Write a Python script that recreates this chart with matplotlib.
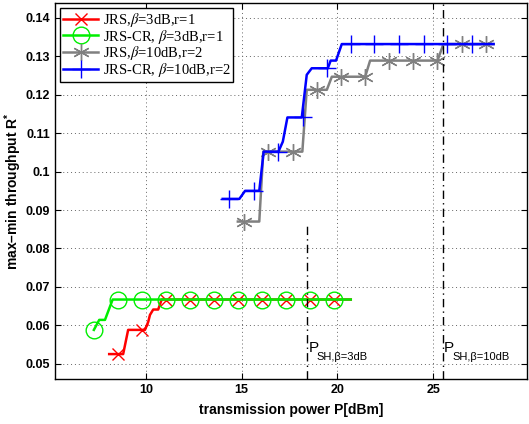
import matplotlib
matplotlib.use("Agg")
import matplotlib.pyplot as plt
from matplotlib.lines import Line2D
from matplotlib.font_manager import FontProperties

plt.rcParams['font.family'] = ['Liberation Sans', 'DejaVu Sans']
plt.rcParams['mathtext.fontset'] = 'custom'
plt.rcParams['mathtext.rm'] = 'Liberation Sans'
plt.rcParams['mathtext.bf'] = 'Liberation Sans:bold'

# JRS, beta=3dB, r=1 (red)
red_x = [8.08, 8.81, 9.07, 9.95, 10.12, 10.21, 10.38, 10.64, 10.82, 20.7]
red_y = [0.0525, 0.0525, 0.0588, 0.0588, 0.0609, 0.0627, 0.0641, 0.0641, 0.0667, 0.0667]
red_mx = [8.55, 9.8, 11.05, 12.3, 13.55, 14.8, 16.05, 17.3, 18.55, 19.8]
red_my = [0.0525, 0.0588, 0.0667, 0.0667, 0.0667, 0.0667, 0.0667, 0.0667, 0.0667, 0.0667]

# JRS-CR, beta=3dB, r=1 (green)
green_x = [7.28, 7.56, 7.86, 8.26, 20.7]
green_y = [0.0588, 0.0614, 0.0614, 0.0667, 0.0667]
green_mx = [7.3, 8.55, 9.8, 11.05, 12.3, 13.55, 14.8, 16.05, 17.3, 18.55, 19.8]
green_my = [0.0588, 0.0667, 0.0667, 0.0667, 0.0667, 0.0667, 0.0667, 0.0667, 0.0667, 0.0667, 0.0667]

# JRS, beta=10dB, r=2 (gray)
gray_x = [14.8, 15.92, 16.13, 18.17, 18.40, 19.45, 19.71, 21.45, 21.71, 25.23, 25.54, 28.16]
gray_y = [0.0870, 0.0870, 0.1052, 0.1052, 0.1213, 0.1213, 0.1247, 0.1247, 0.1289, 0.1289, 0.1332, 0.1332]
gray_mx = [15.14, 16.39, 17.67, 18.92, 20.19, 21.45, 22.70, 23.97, 25.23, 26.50, 27.77]
gray_my = [0.0870, 0.1052, 0.1052, 0.1213, 0.1247, 0.1247, 0.1289, 0.1289, 0.1289, 0.1332, 0.1332]

# JRS-CR, beta=10dB, r=2 (blue)
blue_x = [14.01, 14.88, 15.18, 15.92, 16.15, 16.92, 17.15, 17.39, 18.14, 18.40, 18.66,
          19.50, 19.65, 19.93, 20.23, 28.16]
blue_y = [0.0929, 0.0929, 0.0950, 0.0950, 0.1052, 0.1052, 0.1078, 0.1141, 0.1141, 0.1252, 0.1269,
          0.1269, 0.1289, 0.1289, 0.1332, 0.1332]
blue_mx = [14.36, 15.65, 16.92, 18.2, 19.45, 20.70, 21.93, 23.23, 24.50, 25.75, 27.03]
blue_my = [0.0929, 0.0950, 0.1052, 0.1141, 0.1269, 0.1332, 0.1332, 0.1332, 0.1332, 0.1332, 0.1332]

labels = [r'JRS,$\beta$=3dB,r=1', r'JRS-CR, $\beta$=3dB,r=1',
          r'JRS,$\beta$=10dB,r=2', r'JRS-CR, $\beta$=10dB,r=2']

p_sh_3db = 18.43
p_sh_10db = 25.5

xticks = [10, 15, 20, 25]
yticks = [0.05, 0.06, 0.07, 0.08, 0.09, 0.1, 0.11, 0.12, 0.13, 0.14]
ytick_labels = ['0.05', '0.06', '0.07', '0.08', '0.09', '0.1', '0.11', '0.12', '0.13', '0.14']

fig = plt.figure(figsize=(5.29, 4.24), dpi=100)
ax = fig.add_axes([0.104, 0.106, 0.892, 0.887])

asterisk = (6, 2, 0)
series = [
    (red_x, red_y, red_mx, red_my, 'red', 'x', 9),
    (green_x, green_y, green_mx, green_my, '#00ee00', 'o', 12),
    (gray_x, gray_y, gray_mx, gray_my, '0.5', asterisk, 12),
    (blue_x, blue_y, blue_mx, blue_my, 'blue', '+', 13),
]
handles = []
for lx, ly, mx, my, c, m, ms in series:
    ax.plot(lx, ly, color=c, lw=1.8)
    ax.plot(mx, my, ls='none', marker=m, ms=ms, mfc='none', mec=c, mew=1.0)
    handles.append(Line2D([], [], color=c, lw=1.8, marker=m, ms=ms, mfc='none', mec=c, mew=1.0))

ax.plot([p_sh_3db, p_sh_3db], [0.046, 0.0867], color='black', ls=(0, (6, 3, 1, 3)), lw=1.0)
ax.plot([p_sh_10db, p_sh_10db], [0.046, 0.1439], color='black', ls=(0, (6, 3, 1, 3)), lw=1.0)

ax.text(p_sh_3db + 0.05, 0.0530, 'P', fontsize=11)
ax.text(p_sh_3db + 0.5, 0.0509, 'SH,β=3dB', fontsize=8)
ax.text(p_sh_10db + 0.05, 0.0530, 'P', fontsize=11)
ax.text(p_sh_10db + 0.5, 0.0509, 'SH,β=10dB', fontsize=8)

ax.set_xlim(5.25, 29.9)
ax.set_ylim(0.046, 0.1439)
ax.set_xticks(xticks)
ax.set_yticks(yticks)
ax.set_yticklabels(ytick_labels)
ax.tick_params(direction='in', top=True, right=True, labelsize=9, length=4, width=0.8)
for lab in ax.get_xticklabels() + ax.get_yticklabels():
    lab.set_fontweight('bold')
ax.grid(True, color='0.4', ls=(0, (1, 3)), lw=0.7)
for s in ax.spines.values():
    s.set_linewidth(1.0)

ax.set_xlabel('transmission power P[dBm]', fontsize=10, fontweight='bold', labelpad=5)
ax.set_ylabel(r'max–min throughput R$^{\mathbf{*}}$', fontsize=10, fontweight='bold', labelpad=1)

leg_font = FontProperties(family='Liberation Serif', size=10.5, math_fontfamily='stix')
leg = ax.legend(handles, labels, loc='upper left', prop=leg_font, bbox_to_anchor=(0.005, 0.995),
                handlelength=2.4, labelspacing=-0.08, borderpad=0.2, handletextpad=0.3,
                fancybox=False, framealpha=1, edgecolor='black', borderaxespad=0.2)
leg.get_frame().set_linewidth(1.0)

fig.savefig('out.png', dpi=100)
